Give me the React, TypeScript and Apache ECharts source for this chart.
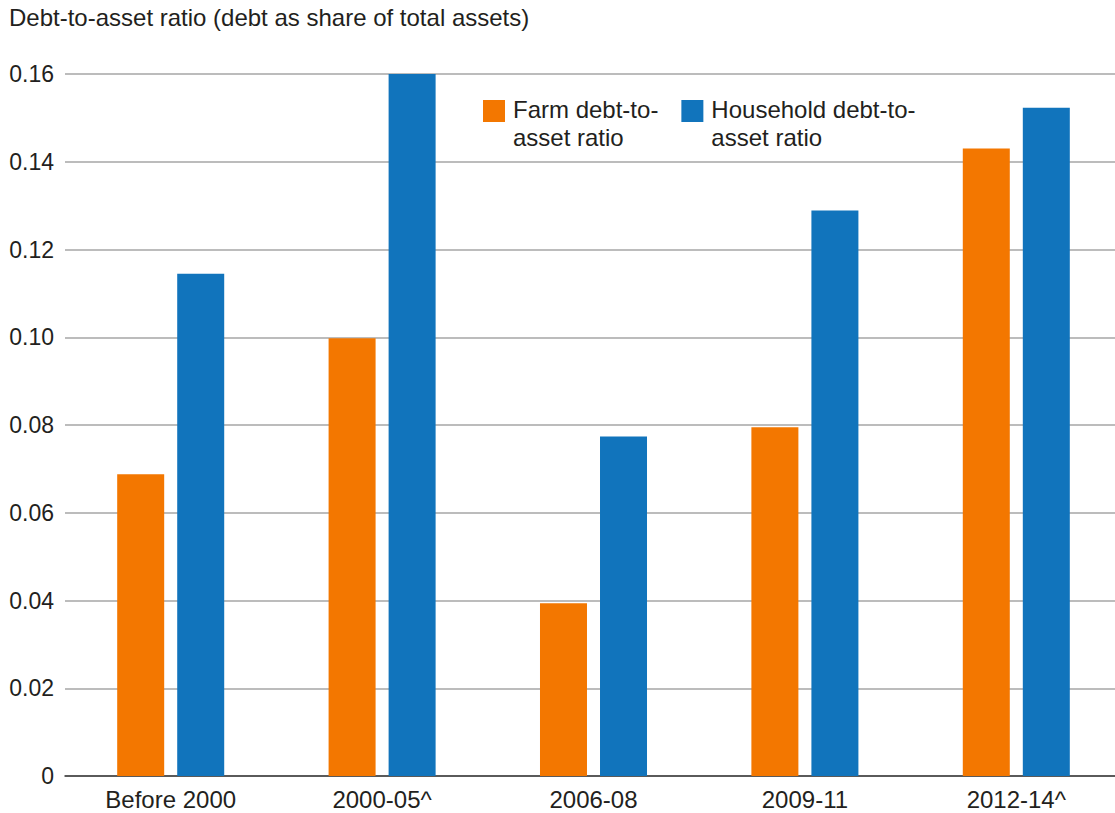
import React, { useEffect, useRef } from "react";
import * as echarts from "echarts";

const categories = ["Before 2000", "2000-05^", "2006-08", "2009-11", "2012-14^"];
const farmRatio = [0.0688, 0.0998, 0.0394, 0.0795, 0.143];
const householdRatio = [0.1145, 0.16, 0.0774, 0.1289, 0.1523];
const seriesNames = ["Farm debt-to-asset ratio", "Household debt-to-asset ratio"];
const legendLines: Record<string, string[]> = {
  "Farm debt-to-asset ratio": ["Farm debt-to-", "asset ratio"],
  "Household debt-to-asset ratio": ["Household debt-to-", "asset ratio"],
};
const titleText = "Debt-to-asset ratio (debt as share of total assets)";

const FONT = "'Liberation Sans', Arial, Helvetica, sans-serif";
const TEXT_COLOR = "#231f20";

export default function App() {
  const ref = useRef<HTMLDivElement>(null);

  useEffect(() => {
    document.body.style.margin = "0";
    if (!ref.current) return;
    const chart = echarts.init(ref.current, null, { renderer: "svg" });
    chart.setOption({
      animation: false,
      backgroundColor: "#ffffff",
      textStyle: { fontFamily: FONT },
      title: {
        text: titleText,
        left: 9,
        top: 5,
        padding: 0,
        textStyle: { fontFamily: FONT, fontSize: 24, fontWeight: "normal", color: TEXT_COLOR },
      },
      legend: {
        left: 483,
        top: 97,
        padding: 0,
        itemWidth: 22,
        itemHeight: 22,
        itemGap: 23,
        icon: "rect",
        formatter: (name: string) =>
          (legendLines[name] || [name]).map((l) => `{t|${l}}`).join("\n"),
        textStyle: {
          fontFamily: FONT,
          fontSize: 24,
          color: TEXT_COLOR,
          padding: [24, 0, 0, 3],
          rich: {
            t: { fontFamily: FONT, fontSize: 24, lineHeight: 28, color: TEXT_COLOR },
          },
        },
        data: seriesNames,
      },
      grid: { left: 65, top: 74, width: 1057, height: 702, containLabel: false },
      xAxis: {
        type: "category",
        data: categories,
        axisTick: { show: false },
        axisLine: { show: true, lineStyle: { color: "#3a3a3a", width: 1.5 } },
        axisLabel: { fontFamily: FONT, fontSize: 24, color: TEXT_COLOR, margin: 11 },
      },
      yAxis: {
        type: "value",
        min: 0,
        max: 0.16,
        interval: 0.02,
        axisLine: { show: false },
        axisTick: { show: false },
        splitLine: { lineStyle: { color: "#a6a6a6", width: 1.5 } },
        axisLabel: {
          fontFamily: FONT,
          fontSize: 23,
          color: TEXT_COLOR,
          margin: 11,
          formatter: (v: number) => (v === 0 ? "0" : v.toFixed(2)),
        },
      },
      series: [
        {
          name: seriesNames[0],
          type: "bar",
          data: farmRatio,
          barWidth: 47,
          barGap: "27.7%",
          itemStyle: { color: "#f37700" },
        },
        {
          name: seriesNames[1],
          type: "bar",
          data: householdRatio,
          barWidth: 47,
          barGap: "27.7%",
          itemStyle: { color: "#1174bc" },
        },
      ],
    });
    return () => chart.dispose();
  }, []);

  return (
    <div style={{ width: 1115, height: 813, overflow: "hidden", position: "relative" }}>
      <div ref={ref} style={{ width: 1130, height: 813 }} />
    </div>
  );
}
